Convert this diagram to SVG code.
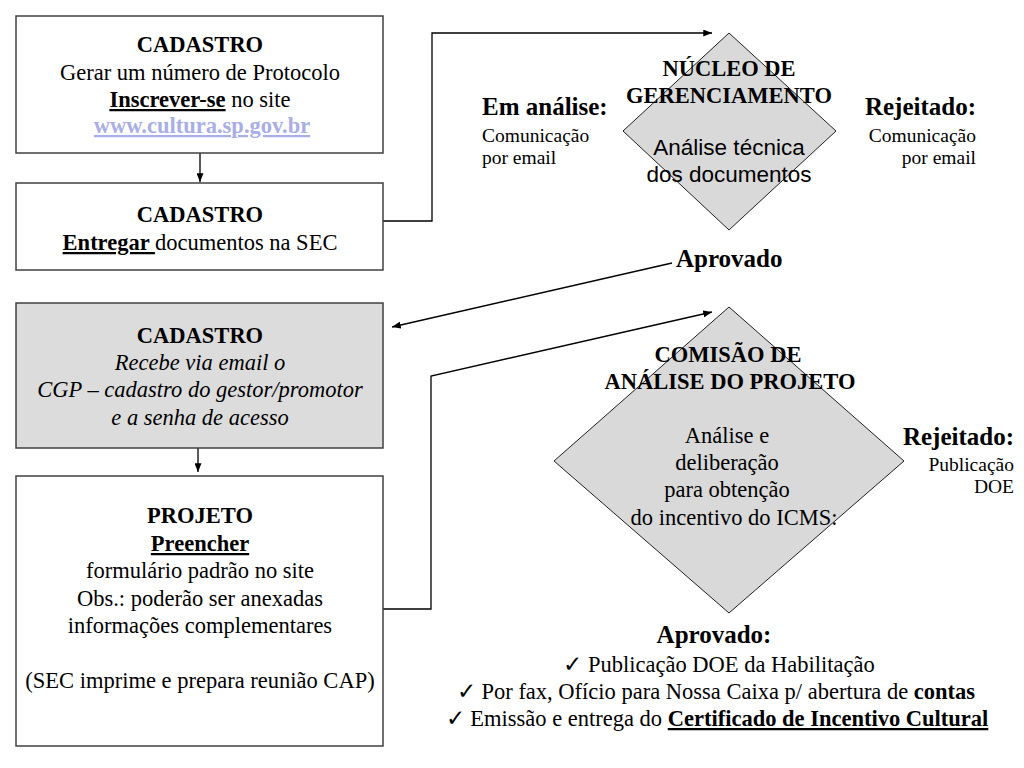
<svg xmlns="http://www.w3.org/2000/svg" width="1024" height="768" viewBox="0 0 1024 768">
<style>
.t{font-family:"Liberation Serif","Times New Roman",serif;font-size:22.5px;fill:#000;text-anchor:middle}
.b{font-weight:bold}
.i{font-style:italic}
.u{text-decoration:underline}
.lbl{font-family:"Liberation Serif","Times New Roman",serif;font-size:25px;font-weight:bold;fill:#000}
.sm{font-family:"Liberation Serif","Times New Roman",serif;font-size:19.5px;fill:#000}
.sans{font-family:"Liberation Sans",Arial,sans-serif;font-size:22.5px;fill:#000;text-anchor:middle}
.box{fill:#fff;stroke:#404040;stroke-width:1.5}
.gray{fill:#dcdcdc}
.dia{fill:#d9d9d9;stroke:#202020;stroke-width:1}
.ln{fill:none;stroke:#000;stroke-width:1.3}
</style>
<defs>
<marker id="ah" viewBox="0 0 10 8" refX="10" refY="4" markerWidth="9" markerHeight="7" markerUnits="userSpaceOnUse" orient="auto">
<path d="M0,0 L10,4 L0,8 z" fill="#000"/>
</marker>
</defs>

<g id="connectors">
<line class="ln" x1="200" y1="153" x2="200" y2="182" marker-end="url(#ah)"/>
<polyline class="ln" points="383,221 432,221 432,33 712,33" marker-end="url(#ah)"/>
<line class="ln" x1="672" y1="263" x2="392" y2="327" marker-end="url(#ah)"/>
<line class="ln" x1="198" y1="448" x2="198" y2="472" marker-end="url(#ah)"/>
<polyline class="ln" points="383,609 431,609 431,376 712,312" marker-end="url(#ah)"/>
</g>

<g id="cadastro1">
<rect class="box" x="16" y="16" width="367" height="137"/>
<text class="t b" x="200" y="52">CADASTRO</text>
<text class="t" x="200" y="80">Gerar um número de Protocolo</text>
<text class="t" x="200" y="107"><tspan class="b u">Inscrever-se</tspan> no site</text>
<text class="t b u" x="202" y="133" style="fill:#a9aee6">www.cultura.sp.gov.br</text>
</g>

<g id="cadastro2">
<rect class="box" x="16" y="183" width="367" height="87"/>
<text class="t b" x="200" y="222">CADASTRO</text>
<text class="t" x="200" y="250"><tspan class="b u">Entregar </tspan>documentos na SEC</text>
</g>

<g id="cadastro3">
<rect class="box gray" x="16" y="303" width="367" height="145"/>
<text class="t b" x="200" y="343">CADASTRO</text>
<text class="t i" x="200" y="370">Recebe via email o</text>
<text class="t i" x="200" y="397">CGP – cadastro do gestor/promotor</text>
<text class="t i" x="200" y="425">e a senha de acesso</text>
</g>

<g id="projeto">
<rect class="box" x="16" y="476" width="367" height="270"/>
<text class="t b" x="200" y="523">PROJETO</text>
<text class="t b u" x="200" y="551">Preencher </text>
<text class="t" x="200" y="578">formulário padrão no site</text>
<text class="t" x="200" y="606">Obs.: poderão ser anexadas</text>
<text class="t" x="200" y="633">informações complementares</text>
<text class="t" x="200" y="688">(SEC imprime e prepara reunião CAP)</text>
</g>

<g id="nucleo">
<polygon class="dia" points="729,33 836,131 729,230 623,131"/>
<text class="t b" x="729" y="76">NÚCLEO DE</text>
<text class="t b" x="729" y="103">GERENCIAMENTO</text>
<text class="sans" x="729" y="155">Análise técnica</text>
<text class="sans" x="729" y="182">dos documentos</text>
</g>

<g id="nucleo-labels">
<text class="lbl" x="482" y="115">Em análise:</text>
<text class="sm" x="482" y="142">Comunicação</text>
<text class="sm" x="482" y="164">por email</text>
<text class="lbl" x="976" y="115" text-anchor="end">Rejeitado:</text>
<text class="sm" x="976" y="142" text-anchor="end">Comunicação</text>
<text class="sm" x="976" y="164" text-anchor="end">por email</text>
<text class="lbl" x="676" y="267">Aprovado</text>
</g>

<g id="comissao">
<polygon class="dia" points="729,307 904,461 729,613 554,461"/>
<text class="t b" x="728" y="362">COMISÃO DE</text>
<text class="t b" x="730" y="389">ANÁLISE DO PROJETO</text>
<text class="t" x="727" y="443">Análise e</text>
<text class="t" x="727" y="470">deliberação</text>
<text class="t" x="727" y="497">para obtenção</text>
<text class="t" x="734" y="525">do incentivo do ICMS:</text>
</g>

<g id="comissao-labels">
<text class="lbl" x="1014" y="445" text-anchor="end">Rejeitado:</text>
<text class="sm" x="1014" y="471" text-anchor="end">Publicação</text>
<text class="sm" x="1014" y="493" text-anchor="end">DOE</text>
<text class="lbl" x="714" y="643" text-anchor="middle">Aprovado:</text>
<text class="t" x="719" y="672">✓ Publicação DOE da Habilitação</text>
<text class="t" x="716" y="699">✓ Por fax, Ofício para Nossa Caixa p/ abertura de <tspan class="b">contas</tspan></text>
<text class="t" x="717" y="726">✓ Emissão e entrega do <tspan class="b u">Certificado de Incentivo Cultural</tspan></text>
</g>
</svg>
